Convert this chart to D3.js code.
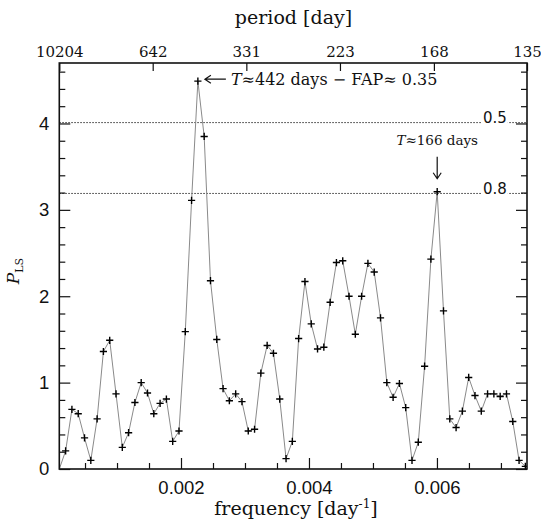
<!DOCTYPE html>
<html>
<head>
<meta charset="utf-8">
<script src="https://cdn.jsdelivr.net/npm/d3@7"></script>
<style>
  body { margin: 0; background: #fff; }
  svg { display: block; }
</style>
</head>
<body>
<div id="chart"></div>
<script>
// Lomb-Scargle periodogram, frequency grid step ~ 1/T
const freqStep = 1 / 10160;
const power = [
  0.00, 0.21, 0.69, 0.64, 0.36, 0.10, 0.58, 1.36, 1.49, 0.87,
  0.25, 0.42, 0.77, 1.00, 0.88, 0.64, 0.76, 0.81, 0.32, 0.44,
  1.59, 3.11, 4.49, 3.85, 2.18, 1.50, 0.93, 0.79, 0.87, 0.78,
  0.44, 0.46, 1.11, 1.43, 1.34, 0.81, 0.12, 0.32, 1.51, 2.17,
  1.68, 1.39, 1.41, 1.93, 2.39, 2.41, 2.00, 1.56, 2.00, 2.38,
  2.28, 1.75, 1.00, 0.83, 0.99, 0.71, 0.10, 0.31, 1.19, 2.43,
  3.21, 1.83, 0.58, 0.48, 0.67, 1.06, 0.85, 0.67, 0.87, 0.87,
  0.84, 0.87, 0.55, 0.10, 0.03
];
const freqTicks = [0.002, 0.004, 0.006];
const periodTicks = [10204, 642, 331, 223, 168, 135];
const fapLevels = [4.01, 3.19];
const fapLabels = ["0.5", "0.8"];
const peakMain = 22, peakSecond = 60;

const W = 541, H = 522;
const L = 59.3, R = 527, T = 63, B = 469;

const data = power.map((p, i) => ({ f: (i + 1) * freqStep, p: p }));

const x = d3.scaleLinear().domain([1 / 10204, 1 / 135]).range([L, R]);
const y = d3.scaleLinear().domain([0, 4.7]).range([B, T]);

const svg = d3.select("#chart").append("svg")
  .attr("width", W).attr("height", H);

svg.append("defs").append("clipPath").attr("id", "clip")
  .append("rect").attr("x", L).attr("y", T).attr("width", R - L).attr("height", B - T);

const plot = svg.append("g").attr("clip-path", "url(#clip)");

// FAP levels
plot.selectAll("line.fap").data(fapLevels).enter().append("line")
  .attr("class", "fap")
  .attr("x1", L).attr("x2", R)
  .attr("y1", d => y(d)).attr("y2", d => y(d))
  .attr("stroke", "#333").attr("stroke-width", 1)
  .attr("stroke-dasharray", "1.5,1.5");

// curve
plot.append("path").datum(data)
  .attr("fill", "none").attr("stroke", "#8a8a8a").attr("stroke-width", 1)
  .attr("d", d3.line().x(d => x(d.f)).y(d => y(d.p)));

// plus markers
const s = 3.6;
plot.selectAll("path.pt").data(data.slice(1)).enter().append("path")
  .attr("class", "pt")
  .attr("d", d => `M${x(d.f) - s},${y(d.p)}h${2 * s}M${x(d.f)},${y(d.p) - s}v${2 * s}`)
  .attr("stroke", "#000").attr("stroke-width", 1.4);

// FAP labels with white background
fapLevels.forEach((lv, i) => {
  const g = svg.append("g");
  const bg = g.append("rect").attr("fill", "#fff");
  const t = g.append("text")
    .attr("x", 483).attr("y", y(lv) + 0.5)
    .attr("font-family", "DejaVu Sans").attr("font-size", 15)
    .attr("fill", "#111")
    .text(fapLabels[i]);
  const bb = t.node().getBBox();
  bg.attr("x", bb.x - 1).attr("y", bb.y).attr("width", bb.width + 2).attr("height", bb.height + 1);
});

// axes
const major = 11, minor = 6;
function styleAxis(g) {
  g.select(".domain").remove();
  g.selectAll(".tick line").attr("stroke", "#111").attr("stroke-width", 1.2);
}

const minorX = d3.range(0.0005, 0.0074, 0.0005).filter(v => Math.abs(v / 0.002 - Math.round(v / 0.002)) > 1e-6);
svg.append("g").attr("transform", `translate(0,${B})`)
  .call(d3.axisBottom(x).tickValues(minorX).tickSize(-minor).tickFormat(""))
  .call(styleAxis);
const xAx = svg.append("g").attr("transform", `translate(0,${B})`)
  .call(d3.axisBottom(x).tickValues(freqTicks).tickSize(-major).tickPadding(12).tickFormat(d3.format(".3f")))
  .call(styleAxis);
xAx.selectAll("text").attr("font-family", "Liberation Sans").attr("font-size", 18.5).attr("fill", "#111");

const yMinor = d3.range(0.2, 4.7, 0.2).filter(v => Math.abs(v - Math.round(v)) > 1e-6);
svg.append("g").attr("transform", `translate(${L},0)`)
  .call(d3.axisLeft(y).tickValues(yMinor).tickSize(-minor).tickFormat(""))
  .call(styleAxis);
const yAx = svg.append("g").attr("transform", `translate(${L},0)`)
  .call(d3.axisLeft(y).tickValues([0, 1, 2, 3, 4]).tickSize(-major).tickPadding(10).tickFormat(d3.format("d")))
  .call(styleAxis);
yAx.selectAll("text").attr("font-family", "Liberation Sans").attr("font-size", 18.5).attr("fill", "#111");

svg.append("g").attr("transform", `translate(${R},0)`)
  .call(d3.axisRight(y).tickValues(yMinor).tickSize(-minor).tickFormat(""))
  .call(styleAxis);
svg.append("g").attr("transform", `translate(${R},0)`)
  .call(d3.axisRight(y).tickValues([0, 1, 2, 3, 4]).tickSize(-major).tickFormat(""))
  .call(styleAxis);

const topAx = svg.append("g").attr("transform", `translate(0,${T})`)
  .call(d3.axisTop(x).tickValues(periodTicks.map(p => 1 / p)).tickSize(-8).tickPadding(6)
    .tickFormat((d, i) => periodTicks[i]))
  .call(styleAxis);
topAx.selectAll("text").attr("font-family", "DejaVu Serif").attr("font-size", 15).attr("fill", "#111");

// frame
svg.append("rect").attr("x", L).attr("y", T).attr("width", R - L).attr("height", B - T)
  .attr("fill", "none").attr("stroke", "#111").attr("stroke-width", 1.6);

// axis titles
svg.append("text").attr("x", 293.5).attr("y", 24).attr("text-anchor", "middle")
  .attr("font-family", "DejaVu Serif").attr("font-size", 19).attr("fill", "#111")
  .text("period [day]");

const xt = svg.append("text").attr("x", 296).attr("y", 515).attr("text-anchor", "middle")
  .attr("font-family", "DejaVu Serif").attr("font-size", 19).attr("fill", "#111");
xt.append("tspan").text("frequency [day");
xt.append("tspan").attr("dy", -7).attr("font-size", 12).text("-1");
xt.append("tspan").attr("dy", 7).text("]");

const yt = svg.append("text").attr("transform", "translate(19,271) rotate(-90)")
  .attr("text-anchor", "middle").attr("font-family", "DejaVu Serif").attr("fill", "#111");
yt.append("tspan").attr("font-style", "italic").attr("font-size", 17).text("P");
yt.append("tspan").attr("font-size", 11).attr("dy", 4).text("LS");

// annotations
const pm = data[peakMain], ps = data[peakSecond];
const ax0 = x(pm.f) + 7, ay = y(pm.p) - 2;
svg.append("path")
  .attr("d", `M${ax0},${ay}H${ax0 + 21}M${ax0 + 6},${ay - 4}L${ax0},${ay}L${ax0 + 6},${ay + 4}`)
  .attr("fill", "none").attr("stroke", "#111").attr("stroke-width", 1.2);
const a1 = svg.append("text").attr("x", ax0 + 26).attr("y", ay + 6)
  .attr("font-family", "DejaVu Serif").attr("font-size", 16).attr("fill", "#111");
a1.append("tspan").attr("font-style", "italic").text("T");
a1.append("tspan").text("≈442 days − FAP≈ 0.35");

const bx = x(ps.f), by = y(ps.p);
svg.append("path")
  .attr("d", `M${bx},${by - 35}V${by - 13}M${bx - 4},${by - 19}L${bx},${by - 13}L${bx + 4},${by - 19}`)
  .attr("fill", "none").attr("stroke", "#111").attr("stroke-width", 1.2);
const a2 = svg.append("text").attr("x", bx).attr("y", by - 47).attr("text-anchor", "middle")
  .attr("font-family", "DejaVu Serif").attr("font-size", 13.5).attr("fill", "#111");
a2.append("tspan").attr("font-style", "italic").text("T");
a2.append("tspan").text("≈166 days");
</script>
</body>
</html>
